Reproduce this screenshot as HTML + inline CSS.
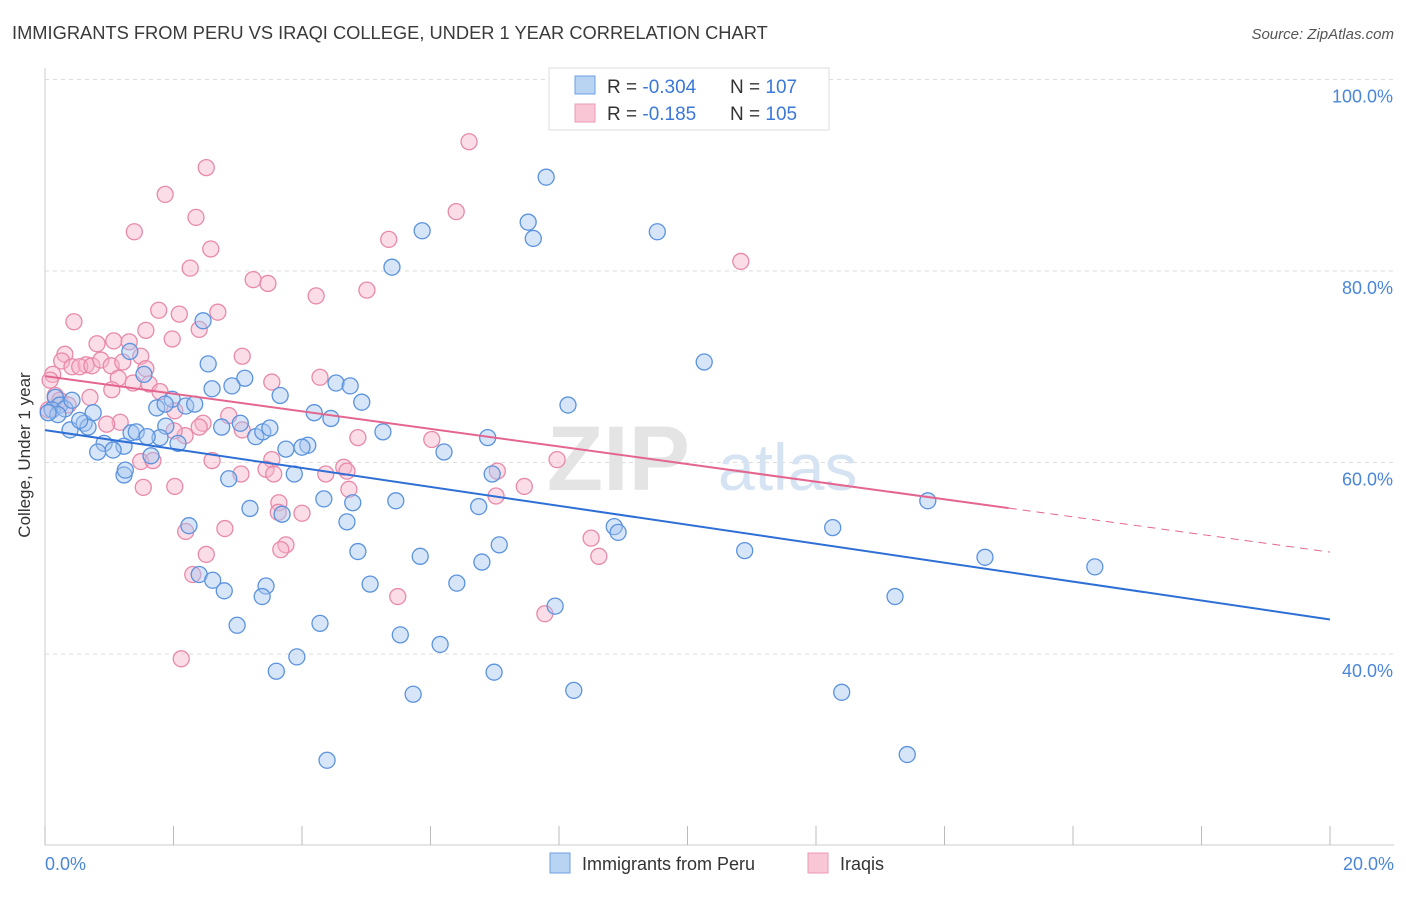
<!DOCTYPE html>
<html><head><meta charset="utf-8">
<style>
body{margin:0;background:#fff;font-family:"Liberation Sans",sans-serif;}
svg text{font-family:"Liberation Sans",sans-serif;}
</style></head>
<body>
<svg id="chart" width="1406" height="892" xmlns="http://www.w3.org/2000/svg">
<text x="12" y="39" font-size="18.3" fill="#3a3a3a">IMMIGRANTS FROM PERU VS IRAQI COLLEGE, UNDER 1 YEAR CORRELATION CHART</text>
<text x="1394" y="39" font-size="15" fill="#555" text-anchor="end" font-style="italic">Source: ZipAtlas.com</text>
<g id="grid"></g>
<text x="690" y="490" font-size="92" fill="#e4e4e4" text-anchor="end" font-weight="bold" font-family="Liberation Serif">ZIP</text>
<text x="718" y="490" font-size="66" fill="#d6e3f3">atlas</text>
<g id="ticks"></g>
<g id="pts"></g>
<g id="trend"></g>
<text x="30" y="455" font-size="17" fill="#333" text-anchor="middle" transform="rotate(-90 30 455)">College, Under 1 year</text>
<text x="45" y="870" font-size="18" fill="#4a86d8">0.0%</text>
<text x="1394" y="870" font-size="18" fill="#4a86d8" text-anchor="end">20.0%</text>
<g>
<rect x="549" y="68" width="280" height="62" fill="#fff" stroke="#ddd"/>
<rect x="575" y="76" width="20" height="18" fill="#b9d3f3" stroke="#6d9fe0"/>
<rect x="575" y="104" width="20" height="18" fill="#f9c6d6" stroke="#eb98b5"/>
<text x="607" y="93" font-size="19" fill="#333">R = <tspan fill="#3b78d8">-0.304</tspan></text>
<text x="730" y="93" font-size="19" fill="#333">N = <tspan fill="#3b78d8">107</tspan></text>
<text x="607" y="120" font-size="19" fill="#333">R =  <tspan fill="#3b78d8"> -0.185</tspan></text>
<text x="730" y="120" font-size="19" fill="#333">N = <tspan fill="#3b78d8">105</tspan></text>
</g>
<g>
<rect x="550" y="853" width="20" height="20" fill="#b9d3f3" stroke="#6d9fe0"/>
<text x="582" y="870" font-size="18" fill="#333">Immigrants from Peru</text>
<rect x="808" y="853" width="20" height="20" fill="#f9c6d6" stroke="#eb98b5"/>
<text x="840" y="870" font-size="18" fill="#333">Iraqis</text>
</g>
</svg>
<script>
const yTicks=[40,60,80,100];
const yTickLabels=["40.0%","60.0%","80.0%","100.0%"];
const xTicks=[0,2,4,6,8,10,12,14,16,18,20];
const peruX=[7.80,7.52,7.60,5.87,9.53,5.40,10.26,8.14,2.46,1.32,2.54,1.54,3.11,2.60,2.91,4.53,4.75,4.93,3.66,1.98,2.19,2.33,1.74,1.87,4.19,4.45,3.04,2.75,3.28,3.39,3.50,5.26,4.09,4.00,3.75,1.88,1.79,2.07,1.34,1.42,1.59,1.23,0.92,0.82,1.06,1.23,1.25,1.65,2.86,3.19,3.88,6.21,6.89,6.96,4.34,4.79,5.46,4.70,6.75,3.69,2.24,8.86,8.92,7.07,4.87,5.84,6.80,2.40,2.61,2.79,3.44,3.38,5.06,6.41,7.94,2.99,4.28,5.53,6.15,3.92,3.60,6.99,5.73,8.23,4.39,10.89,12.26,13.74,14.63,16.34,13.23,12.40,13.42,0.16,0.23,0.11,0.31,0.42,0.61,0.75,0.39,0.67,0.20,0.05,0.54];
const peruY=[89.8,85.1,83.4,84.2,84.1,80.4,70.5,66.0,74.8,71.6,70.3,69.2,68.8,67.7,68.0,68.3,68.0,66.3,67.0,66.6,65.9,66.1,65.7,66.1,65.2,64.6,64.1,63.7,62.7,63.2,63.6,63.2,61.8,61.6,61.4,63.8,62.6,62.0,63.1,63.2,62.7,61.7,62.0,61.1,61.3,58.7,59.2,60.7,58.3,55.2,58.8,61.1,62.6,58.8,56.2,55.8,56.0,53.8,55.4,54.6,53.4,53.3,52.7,51.4,50.7,50.2,49.6,48.3,47.7,46.6,47.1,46.0,47.3,47.4,45.0,43.0,43.2,42.0,41.0,39.7,38.2,38.1,35.8,36.2,28.9,50.8,53.2,56.0,50.1,49.1,46.0,36.0,29.5,66.8,66.0,65.5,65.6,66.5,64.1,65.2,63.4,63.7,65.0,65.2,64.4];
const iraqX=[6.60,2.51,1.87,1.39,2.35,2.58,2.26,6.40,5.35,10.83,3.24,3.47,4.22,5.01,1.77,2.09,2.69,0.45,1.57,2.40,1.98,0.81,1.07,1.31,1.49,3.07,0.31,0.26,0.42,0.64,0.54,0.73,0.87,1.03,1.21,0.12,1.57,1.14,1.62,1.37,3.53,4.28,1.04,0.70,1.79,2.02,1.17,0.96,2.46,2.86,2.40,3.07,2.18,2.01,4.87,6.02,2.60,3.53,1.49,1.68,3.05,3.44,4.65,4.70,4.37,3.56,7.97,7.04,7.46,4.73,7.02,3.64,3.63,4.00,2.19,2.80,8.50,8.62,2.51,3.75,3.67,2.30,5.49,7.78,2.12,1.53,2.02,0.08,0.16,0.23,0.36,0.05];
const iraqY=[93.5,90.8,88.0,84.1,85.6,82.3,80.3,86.2,83.3,81.0,79.1,78.7,77.4,78.0,75.9,75.5,75.7,74.7,73.8,73.9,72.9,72.4,72.7,72.6,71.1,71.1,71.3,70.6,70.0,70.2,70.0,70.1,70.7,70.1,70.5,69.2,69.8,68.8,68.2,68.3,68.4,68.9,67.6,66.8,67.4,65.4,64.2,64.0,64.1,64.9,63.7,63.4,62.8,63.3,62.6,62.4,60.2,60.3,60.1,60.2,58.8,59.3,59.5,59.1,58.8,58.8,60.3,59.1,57.5,57.2,56.5,55.8,54.8,54.7,52.8,53.1,52.1,50.2,50.4,51.4,50.9,48.3,46.0,44.2,39.5,57.4,57.5,68.6,67.0,66.5,66.0,65.5];

const NS="http://www.w3.org/2000/svg";
const X0=45,X1=1330,Y0=1037,PXY=9.575;
function sx(v){return X0+(v/20)*(X1-X0);}
function sy(v){return Y0-v*PXY;}
function mk(tag,attrs,parent){const e=document.createElementNS(NS,tag);for(const k in attrs)e.setAttribute(k,attrs[k]);parent.appendChild(e);return e;}
const grid=document.getElementById('grid');
let ax=mk('line',{x1:X0,y1:68,x2:X0,y2:845,stroke:'#ccc'},grid);


let bx=mk('line',{x1:X0,y1:845,x2:1394,y2:845,stroke:'#ccc'},grid);


yTicks.forEach((t,i)=>{
  const l=mk('line',{x1:X0,y1:sy(t),x2:1394,y2:sy(t),stroke:'#ddd','stroke-dasharray':'4,4'},grid);
  
  
  const tx=mk('text',{x:1393,y:sy(t)+23,'font-size':18,fill:'#4a86d8','text-anchor':'end'},grid);
  tx.textContent=yTickLabels[i];
  
  
});
const ticks=document.getElementById('ticks');
xTicks.forEach(t=>{
  const l=mk('line',{x1:sx(t),y1:826,x2:sx(t),y2:845,stroke:'#bbb'},ticks);
  
  
});
const pts=document.getElementById('pts');
function plot(xs,ys,fill,stroke,name){
  xs.forEach((x,i)=>{
    const c=mk('circle',{cx:sx(x),cy:sy(ys[i]),r:8,fill:fill,'fill-opacity':0.45,stroke:stroke,'stroke-width':1.3},pts);
    
    
  });
}
plot(iraqX,iraqY,'#f7b3c9','#e889aa','point-iraqis');
plot(peruX,peruY,'#a6c6f0','#5b93de','point-peru');
function fit(xs,ys){const n=xs.length;let mx=0,my=0;for(let i=0;i<n;i++){mx+=xs[i];my+=ys[i];}mx/=n;my/=n;let a=0,b=0;for(let i=0;i<n;i++){a+=(xs[i]-mx)*(ys[i]-my);b+=(xs[i]-mx)**2;}const s=a/b;return [s,my-s*mx];}
const tr=document.getElementById('trend');
const [s1,b1]=fit(peruX,peruY);
let l1=mk('line',{x1:sx(0),y1:sy(b1),x2:sx(20),y2:sy(b1+s1*20),stroke:'#2e6fd6','stroke-width':2},tr);


const [s2,b2]=fit(iraqX,iraqY);
let l2=mk('line',{x1:sx(0),y1:sy(b2),x2:sx(15),y2:sy(b2+s2*15),stroke:'#e4668f','stroke-width':2},tr);


let l3=mk('line',{x1:sx(15),y1:sy(b2+s2*15),x2:sx(20),y2:sy(b2+s2*20),stroke:'#e4668f','stroke-width':1,'stroke-dasharray':'8,6'},tr);


</script>
</body></html>
